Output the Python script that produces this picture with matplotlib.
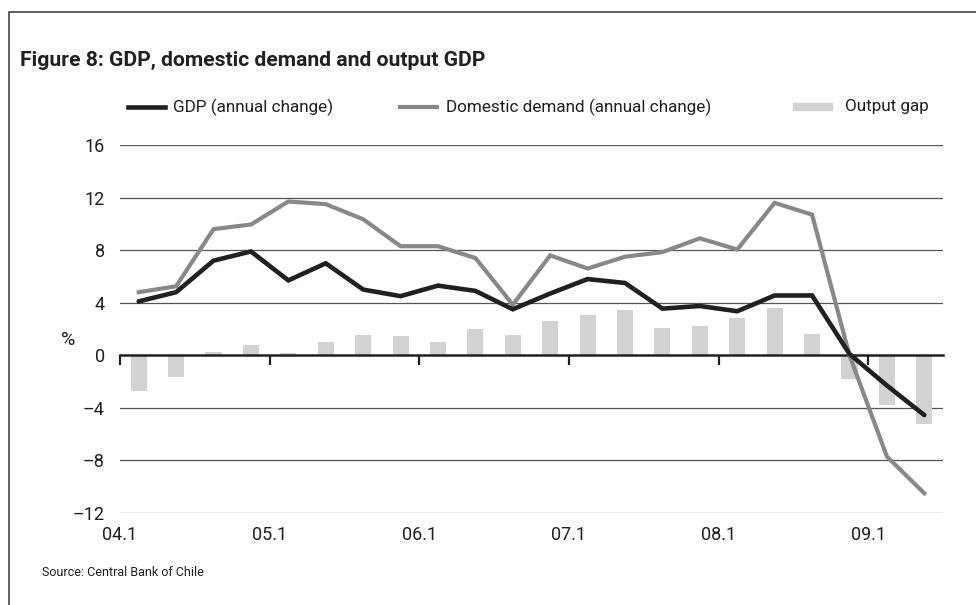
import numpy as np
import matplotlib
matplotlib.use("Agg")
import matplotlib.pyplot as plt
from matplotlib.lines import Line2D
from matplotlib.patches import Rectangle

plt.rcParams['font.family'] = ['Liberation Sans Narrow', 'Roboto', 'DejaVu Sans']

# quarterly data 2004Q1 - 2009Q2
quarters = [f"{y:02d}.{q}" for y in range(4, 10) for q in range(1, 5)][:22]
gdp = [4.1, 4.8, 7.2, 7.9, 5.7, 7.0, 5.0, 4.5, 5.3, 4.9, 3.5, 4.7,
       5.8, 5.5, 3.55, 3.75, 3.35, 4.55, 4.55, 0.1, -2.3, -4.55]
demand = [4.8, 5.25, 9.6, 9.95, 11.7, 11.5, 10.35, 8.3, 8.3, 7.4, 3.85, 7.6,
          6.6, 7.5, 7.85, 8.9, 8.05, 11.6, 10.7, 0.0, -7.7, -10.5]
gap = [-2.7, -1.65, 0.23, 0.76, 0.15, 1.0, 1.52, 1.45, 1.0, 1.98, 1.52, 2.59,
       3.04, 3.42, 2.05, 2.2, 2.8, 3.58, 1.6, -1.83, -3.8, -5.25]
yticks = [-12, -8, -4, 0, 4, 8, 12, 16]

W, H = 976, 605
def fx(x): return x / W
def fy(y): return 1 - y / H

c_gdp = "#231f20"
c_dem = "#87888b"
c_gap = "#d1d2d4"

fig = plt.figure(figsize=(9.76, 6.05), dpi=100)
ax = fig.add_axes([fx(120), fy(513), (943 - 120) / W, (513 - 145) / H])

x = np.arange(len(quarters)) + 0.5
ax.bar(x, gap, width=0.43, color=c_gap, zorder=2)
ax.plot(x, demand, color=c_dem, lw=3.0, zorder=4, solid_joinstyle='miter')
ax.plot(x, gdp, color=c_gdp, lw=3.3, zorder=5, solid_joinstyle='miter',
        solid_capstyle='round')

ax.set_xlim(0, len(quarters))
ax.set_ylim(-12, 16)
ax.set_yticks(yticks)
ax.set_yticklabels([str(v).replace('-', '\u2013') for v in yticks], fontsize=13)
ax.tick_params(axis='y', length=0, pad=11, labelcolor="#231f20")
for v in yticks:
    if v != 0:
        ax.axhline(v, color="#555555", lw=0.9, zorder=1)

for s in ['left', 'right', 'top']:
    ax.spines[s].set_visible(False)
ax.spines['bottom'].set_position(('data', 0))
ax.spines['bottom'].set_color(c_gdp)
ax.spines['bottom'].set_linewidth(1.8)
ax.spines['bottom'].set_zorder(3)
xt = list(range(0, len(quarters), 4))
ax.set_xticks(xt)
ax.tick_params(axis='x', direction='out', length=7, width=1.6, color=c_gdp,
               labelbottom=False)

sec = ax.secondary_xaxis('bottom')
sec.set_xticks(xt)
sec.set_xticklabels([quarters[i] for i in xt], fontsize=13, color="#231f20")
sec.tick_params(length=0, pad=9)
sec.spines['bottom'].set_visible(False)

fig.text(fx(68), fy(340), "%", fontsize=14, ha='center', va='center',
         color="#231f20")

fig.text(fx(20), fy(60), "Figure 8: GDP, domestic demand and output GDP",
         fontsize=15.2, fontweight='bold', va='center', color="#231f20")

# legend
ly = fy(107)
fig.add_artist(Line2D([fx(128), fx(165)], [ly, ly], color=c_gdp, lw=3.3))
fig.text(fx(173), ly, "GDP (annual change)", fontsize=12.3, va='center',
         color="#231f20")
fig.add_artist(Line2D([fx(400), fx(437)], [ly, ly], color=c_dem, lw=3.0))
fig.text(fx(446), ly, "Domestic demand (annual change)", fontsize=12.3,
         va='center', color="#231f20")
fig.add_artist(Rectangle((fx(793), fy(110)), fx(39), 7 / H, color=c_gap))
fig.text(fx(845), ly, "Output gap", fontsize=12.3, va='center', color="#231f20")

fig.text(fx(42), fy(572), "Source: Central Bank of Chile", fontsize=9,
         va='center', color="#231f20")

# frame
fig.add_artist(Line2D([fx(9), fx(9), fx(976)], [0, fy(12), fy(12)],
                      color="#444444", lw=1.2))

fig.savefig("out.png", dpi=100)
